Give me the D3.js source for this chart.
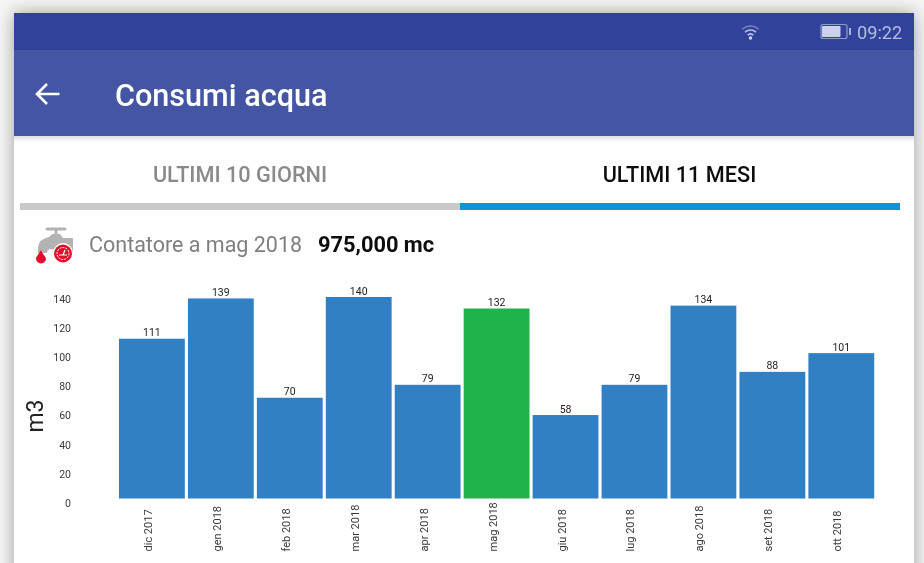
<!DOCTYPE html>
<html><head><meta charset="utf-8">
<script src="https://cdn.jsdelivr.net/npm/d3@7/dist/d3.min.js"></script>
<style>html,body{margin:0;padding:0;background:#fff;overflow:hidden}svg{display:block}text{font-family:Roboto,sans-serif}</style>
</head><body><svg id="c" width="924" height="563"></svg>
<script>
const categories=["dic 2017","gen 2018","feb 2018","mar 2018","apr 2018","mag 2018","giu 2018","lug 2018","ago 2018","set 2018","ott 2018"];
const values=[111,139,70,140,79,132,58,79,134,88,101];
const highlighted="mag 2018";
const yTicks=[0,20,40,60,80,100,120,140];
const title="Consumi acqua";
const tabs=["ULTIMI 10 GIORNI","ULTIMI 11 MESI"];
const counterLabel="Contatore a mag 2018";
const counterValue="975,000 mc";
const clock="09:22";
const yLabel="m3";

const svg=d3.select("#c");
const defs=svg.append("defs");
const f=defs.append("filter").attr("id","sh").attr("x","-10%").attr("y","-10%").attr("width","120%").attr("height","120%");
f.append("feGaussianBlur").attr("stdDeviation",9);
const soft=defs.append("filter").attr("id","soft");
soft.append("feGaussianBlur").attr("stdDeviation",0.45);
const hs=defs.append("linearGradient").attr("id","hs").attr("x1",0).attr("x2",0).attr("y1",0).attr("y2",1);
hs.append("stop").attr("offset",0).attr("stop-color","#000").attr("stop-opacity",.13);
hs.append("stop").attr("offset",1).attr("stop-color","#000").attr("stop-opacity",0);

// page and its shadow
svg.append("rect").attr("width",924).attr("height",563).attr("fill","#f6f6f6");
svg.append("rect").attr("x",14).attr("y",13).attr("width",900).attr("height",600).attr("fill","#000").attr("opacity",.36).attr("filter","url(#sh)");
svg.append("rect").attr("x",14).attr("y",13).attr("width",900).attr("height",550).attr("fill","#fff");
svg.append("rect").attr("x",14).attr("y",13).attr("width",900).attr("height",37).attr("fill","#31429a");
svg.append("rect").attr("x",14).attr("y",50).attr("width",900).attr("height",86).attr("fill","#4355a3");
svg.append("rect").attr("x",14).attr("y",136).attr("width",900).attr("height",6).attr("fill","url(#hs)");

const ui=svg.append("g").attr("filter","url(#soft)");
// wifi
const wifi=ui.append("g").attr("transform","translate(750.5,38)").attr("fill","none").attr("stroke","#c5cbe6").attr("stroke-linecap","round");
[[4,1.7,1],[8,1.6,.9],[12,1.3,.45]].forEach(([r,w,o])=>{
  wifi.append("path").attr("d",d3.arc()({innerRadius:r,outerRadius:r,startAngle:-.75,endAngle:.75})).attr("stroke-width",w).attr("opacity",o);
});
wifi.append("circle").attr("r",1.7).attr("fill","#d5d9ee").attr("stroke","none");
// battery
ui.append("rect").attr("x",821).attr("y",24.5).attr("width",26).attr("height",14).attr("rx",2).attr("fill","none").attr("stroke","#8f9bd0").attr("stroke-width",1.2);
ui.append("rect").attr("x",822).attr("y",26).attr("width",18.5).attr("height",11).attr("rx",1).attr("fill","#cdd2ec");
ui.append("rect").attr("x",849).attr("y",28).attr("width",2).attr("height",7).attr("fill","#aab3dc");
ui.append("text").attr("x",857).attr("y",39).attr("font-size",18.2).attr("fill","#b5bde0").text(clock);
// back arrow
ui.append("path").attr("d","M59.5 94 H37.5 M47 84 L37 94 L47 104").attr("fill","none").attr("stroke","#fff").attr("stroke-width",2.6);
ui.append("text").attr("x",115).attr("y",105.5).attr("font-size",30.6).attr("font-weight",500).attr("fill","#fff").text(title);
// tabs
ui.append("text").attr("x",240).attr("y",181.5).attr("text-anchor","middle").attr("font-size",21.7).attr("font-weight",500).attr("fill","#8a8a8a").text(tabs[0]);
ui.append("text").attr("x",679.5).attr("y",181.5).attr("text-anchor","middle").attr("font-size",21.7).attr("font-weight",500).attr("fill","#111").text(tabs[1]);
ui.append("rect").attr("x",20).attr("y",203).attr("width",440).attr("height",7).attr("fill","#c9c9c9");
ui.append("rect").attr("x",460).attr("y",203).attr("width",440).attr("height",7).attr("fill","#0a92dc");
// tap icon
const ic=ui.append("g");
ic.append("path").attr("d","M47 229 H65 M56 229 V236").attr("stroke","#b3b3b3").attr("stroke-width",3).attr("fill","none").attr("stroke-linecap","round");
ic.append("path").attr("d","M38 253 V247 Q39 239 49 237 L52 234 H60 L63 238 H73 V255 H60 Q57 249 50 249 Q47 250 47 253 Z").attr("fill","#b3b3b3");
ic.append("circle").attr("cx",63).attr("cy",253).attr("r",10).attr("fill","#fff");
ic.append("circle").attr("cx",63).attr("cy",253.5).attr("r",9).attr("fill","#e4112b");
ic.append("circle").attr("cx",63).attr("cy",253.5).attr("r",6).attr("fill","none").attr("stroke","#fff").attr("stroke-width",1).attr("stroke-dasharray","2 1");
ic.append("path").attr("d","M59 255 H67 M63 255 L65 250").attr("stroke","#fff").attr("stroke-width",1.2);
ic.append("path").attr("d","M41 250 C38 255 36 257 36 258.5 A5 5 0 0 0 46 258.5 C46 257 43 255 41 250 Z").attr("fill","#e4112b");
ui.append("text").attr("x",89).attr("y",252).attr("font-size",21.5).attr("fill","#7f7f7f").text(counterLabel);
ui.append("text").attr("x",318).attr("y",252).attr("font-size",21.8).attr("font-weight",700).attr("fill","#0c0c0c").text(counterValue);

// chart
const x=d3.scaleBand().domain(categories).range([117.6,875.6]).paddingInner(0.045).paddingOuter(0.02);
const y=d3.scaleLinear().domain([0,140]).range([498.5,297]);
const tickY=d3.scaleLinear().domain([0,140]).range([503,299]);
const ch=svg.append("g").attr("filter","url(#soft)");

const ya=ch.append("g").attr("transform","translate(71,0)").call(d3.axisLeft(tickY).tickValues(yTicks).tickSize(0).tickPadding(0));
ya.select(".domain").remove();
ya.selectAll("text").attr("font-size",10.5).attr("font-family","Roboto,sans-serif").attr("fill","#3a3a3a");

const xa=ch.append("g").attr("transform","translate(0,507)").call(d3.axisBottom(x).tickSize(0).tickPadding(0));
xa.select(".domain").remove();
xa.selectAll("text").attr("font-size",11).attr("font-family","Roboto,sans-serif").attr("fill","#3a3a3a")
  .attr("text-anchor","start").attr("dy",0).attr("y",0).attr("x",0).attr("dx",0)
  .attr("transform","translate(0,44.5) rotate(-90)");

ch.selectAll("rect.bar").data(values).join("rect").attr("class","bar")
  .attr("x",(d,i)=>x(categories[i])).attr("width",x.bandwidth())
  .attr("y",d=>y(d)).attr("height",d=>y(0)-y(d))
  .attr("fill",(d,i)=>categories[i]===highlighted?"#20b24b":"#3380c4");
ch.selectAll("text.val").data(values).join("text").attr("class","val")
  .attr("x",(d,i)=>x(categories[i])+x.bandwidth()/2).attr("y",d=>y(d)-2.5)
  .attr("text-anchor","middle").attr("font-size",10.5).attr("fill","#222").text(d=>d);
ch.append("text").attr("transform","translate(43,416) rotate(-90)").attr("text-anchor","middle").attr("font-size",23).attr("fill","#222").text(yLabel);
</script></body></html>
